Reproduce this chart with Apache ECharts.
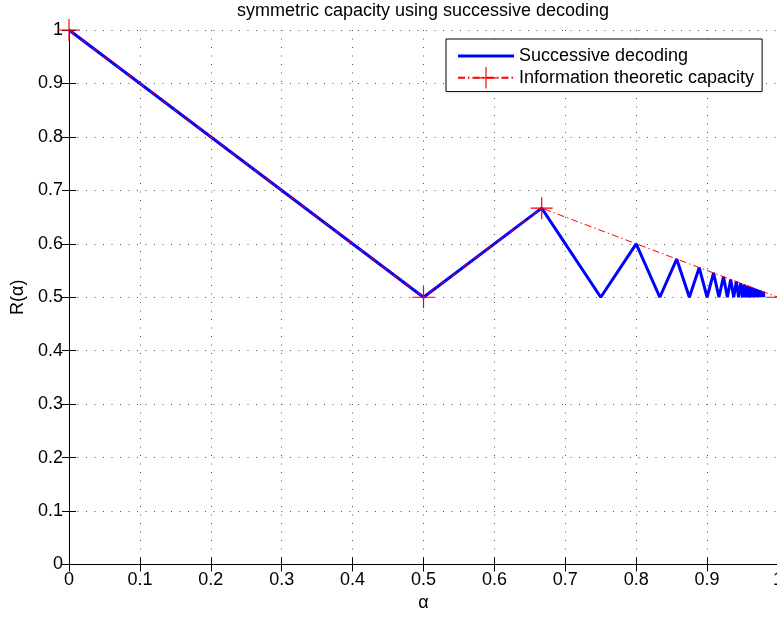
<!DOCTYPE html>
<html>
<head>
<meta charset="utf-8">
<script src="https://cdn.jsdelivr.net/npm/echarts@6/dist/echarts.min.js"></script>
<style>html,body{margin:0;padding:0;background:#fff;}#c{width:777px;height:617px;}</style>
</head>
<body>
<div id="c"></div>
<script>
const titleText = 'symmetric capacity using successive decoding';
const xName = 'α';
const yName = 'R(α)';
const seriesNames = ['Successive decoding', 'Information theoretic capacity'];

const alphaSucc = [0, 0.5, 0.6667, 0.75, 0.8, 0.8333, 0.8571, 0.875, 0.8889, 0.9, 0.9091, 0.9167, 0.9231, 0.9286, 0.9333, 0.9375, 0.9412, 0.9444, 0.9474, 0.95, 0.9524, 0.9545, 0.9565, 0.9583, 0.96, 0.9615, 0.963, 0.9643, 0.9655, 0.9667, 0.9677, 0.9688, 0.9697, 0.9706, 0.9714, 0.9722, 0.973, 0.9737, 0.9744, 0.975, 0.9756, 0.9762, 0.9767, 0.9773, 0.9778, 0.9783, 0.9787, 0.9792, 0.9796, 0.98];
const rateSucc = [1, 0.5, 0.6667, 0.5, 0.6, 0.5, 0.5714, 0.5, 0.5556, 0.5, 0.5455, 0.5, 0.5385, 0.5, 0.5333, 0.5, 0.5294, 0.5, 0.5263, 0.5, 0.5238, 0.5, 0.5217, 0.5, 0.52, 0.5, 0.5185, 0.5, 0.5172, 0.5, 0.5161, 0.5, 0.5152, 0.5, 0.5143, 0.5, 0.5135, 0.5, 0.5128, 0.5, 0.5122, 0.5, 0.5116, 0.5, 0.5111, 0.5, 0.5106, 0.5, 0.5102, 0.5];

const alphaCap = [0, 0.5, 0.6667, 1];
const rateCap = [1, 0.5, 0.6667, 0.5];

const FONT = 'Liberation Sans, Arial, Helvetica, sans-serif';
const plusPath = 'path://M-0.6,-11 H0.6 V-0.6 H11 V0.6 H0.6 V11 H-0.6 V0.6 H-11 V-0.6 H-0.6 Z';
const linePath = 'path://M0,0 H56 V3 H0 Z';

const chart = echarts.init(document.getElementById('c'), null, {renderer: 'canvas'});

const gridLine = {show: true, lineStyle: {color: '#555', width: 1, type: [1, 7.5]}};
const axisLineBlack = {show: true, lineStyle: {color: '#000', width: 1}};
const inTick = {show: true, inside: true, length: 7, lineStyle: {color: '#000', width: 1}};

chart.setOption({
  animation: false,
  backgroundColor: '#fff',
  title: {
    text: titleText,
    left: 423,
    top: 2,
    padding: 0,
    textAlign: 'center',
    textStyle: {fontFamily: FONT, fontSize: 18, fontWeight: 'normal', color: '#000'}
  },
  grid: {left: 69, top: 30, width: 709, height: 534.5, containLabel: false, outerBoundsMode: 'none', show: false},
  legend: {
    orient: 'vertical',
    left: 446,
    top: 39,
    padding: [8, 8, 3, 11],
    itemWidth: 56,
    itemHeight: 27,
    itemGap: 2,
    backgroundColor: '#fff',
    borderColor: '#000',
    borderWidth: 1,
    borderRadius: 0,
    textStyle: {fontFamily: FONT, fontSize: 18, color: '#000'},
    data: [
      {name: seriesNames[0], icon: linePath, itemStyle: {color: '#0000ff'}},
      {name: seriesNames[1]}
    ]
  },
  xAxis: [
    {
      type: 'value', position: 'bottom', min: 0, max: 1, interval: 0.1,
      name: xName, nameLocation: 'middle', nameGap: 29,
      nameTextStyle: {fontFamily: FONT, fontSize: 18, color: '#000'},
      axisLine: axisLineBlack, axisTick: inTick,
      axisLabel: {fontFamily: FONT, fontSize: 18, color: '#000', margin: 7},
      splitLine: gridLine
    },
    {
      type: 'value', position: 'top', min: 0, max: 1, interval: 0.1,
      axisLine: axisLineBlack, axisTick: inTick,
      axisLabel: {show: false}, splitLine: {show: false}
    }
  ],
  yAxis: [
    {
      type: 'value', position: 'left', min: 0, max: 1, interval: 0.1,
      name: yName, nameLocation: 'middle', nameGap: 39, nameRotate: 90,
      nameTextStyle: {fontFamily: FONT, fontSize: 18, color: '#000'},
      axisLine: axisLineBlack, axisTick: inTick,
      axisLabel: {fontFamily: FONT, fontSize: 18, color: '#000', margin: 6},
      splitLine: gridLine
    },
    {
      type: 'value', position: 'right', min: 0, max: 1, interval: 0.1,
      axisLine: axisLineBlack, axisTick: inTick,
      axisLabel: {show: false}, splitLine: {show: false}
    }
  ],
  series: [
    {
      name: seriesNames[0],
      type: 'line',
      xAxisIndex: 0, yAxisIndex: 0,
      data: alphaSucc.map((a, i) => [a, rateSucc[i]]),
      symbol: 'none',
      lineStyle: {color: '#0000ff', width: 3},
      itemStyle: {color: '#0000ff'},
      z: 2
    },
    {
      name: seriesNames[1],
      type: 'line',
      xAxisIndex: 0, yAxisIndex: 0,
      data: alphaCap.map((a, i) => [a, rateCap[i]]),
      symbol: plusPath,
      symbolSize: 22,
      showAllSymbol: true,
      lineStyle: {color: '#ff0000', width: 1, type: [7, 3, 1.5, 3]},
      itemStyle: {color: '#ff0000'},
      z: 3
    }
  ]
});
</script>
</body>
</html>
